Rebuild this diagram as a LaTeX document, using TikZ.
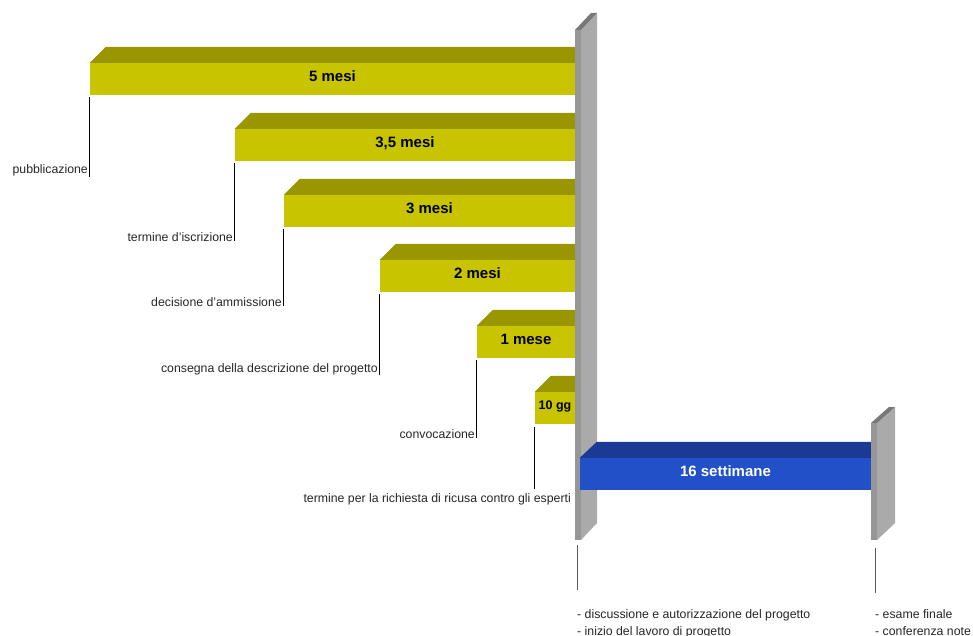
\documentclass[tikz,border=0pt]{standalone}
\usepackage{fontspec}
\setmainfont{Liberation Sans}
\definecolor{yfront}{RGB}{200,196,0}
\definecolor{ytop}{RGB}{154,150,0}
\definecolor{bfront}{RGB}{34,80,200}
\definecolor{btop}{RGB}{26,58,150}
\definecolor{wfront}{RGB}{150,150,150}
\definecolor{wside}{RGB}{170,170,170}
\definecolor{wtop}{RGB}{120,120,120}
\newcommand{\apo}{{\char"27}}
\begin{document}
\begin{tikzpicture}[x=1pt,y=-1pt,
  bar/.style={fill=yfront, draw=none, inner sep=0, minimum height=32pt, text depth=6pt, font=\fontsize{15}{18}\selectfont\bfseries, text=black},
  bbar/.style={fill=bfront, draw=none, inner sep=0, minimum height=32pt, text depth=6pt, font=\fontsize{15}{18}\selectfont\bfseries, text=white},
  lab/.style={inner sep=0, font=\fontsize{12.3}{14}\selectfont, text=black!85},
  lead/.style={draw=black, line width=0.9pt},
  glead/.style={draw=black!65, line width=0.9pt}]
\useasboundingbox (0,0) rectangle (973,636);
% yellow bars
\node[bar, minimum width=485pt] (b1) at (332.5,79) {5 mesi};
\node[bar, minimum width=340pt] (b2) at (405,145) {3,5 mesi};
\node[bar, minimum width=291pt] (b3) at (429.5,211) {3 mesi};
\node[bar, minimum width=195pt] (b4) at (477.5,276) {2 mesi};
\node[bar, minimum width=98pt] (b5) at (526,342) {1 mese};
\node[bar, minimum width=40pt, text depth=5pt, font=\fontsize{12.5}{15}\selectfont\bfseries] (b6) at (555,408) {10 gg};
\foreach \b in {b1,b2,b3,b4,b5,b6}{
  \fill[ytop] (\b.north west) -- (\b.north east) -- ++(16,-16) -| ([xshift=16pt,yshift=16pt]\b.north west) -- cycle;
}
% left wall
\fill[wside] (581,30) -- (597,13) -- (597,523) -- (581,540) -- cycle;
\fill[wfront] (575,30) rectangle (581,540);
\fill[wtop] (575,30) -- (591,13) -- (597,13) -- (581,30) -- cycle;
\coordinate (w1) at (577,545);
\coordinate (w1e) at (577,590);
% blue bar
\node[bbar, minimum width=291pt] (b7) at (725.5,474) {16 settimane};
\fill[btop] (b7.north west) -- (b7.north east) -- ++(17,-16) -- ([xshift=17pt,yshift=16pt]b7.north west) -- cycle;
% right wall
\fill[wside] (877,423) -- (895,407) -- (895,523) -- (877,540) -- cycle;
\fill[wfront] (871,423) rectangle (877,540);
\fill[wtop] (871,423) -- (889,407) -- (895,407) -- (877,423) -- cycle;
\coordinate (w2) at (875,548);
\coordinate (w2e) at (875,593);
% labels
\node[lab, anchor=base east] (l1) at (88,174) {pubblicazione};
\node[lab, anchor=base east] (l2) at (233,241) {termine d\apo iscrizione};
\node[lab, anchor=base east] (l3) at (282,306) {decisione d\apo ammissione};
\node[lab, anchor=base east] (l4) at (378,372) {consegna della descrizione del progetto};
\node[lab, anchor=base east] (l5) at (475,438) {convocazione};
\node[lab, anchor=base east] (l6) at (571,502) {termine per la richiesta di ricusa contro gli esperti};
\draw[lead] ([yshift=-2pt]b1.south west) -- (b1.south west |- l1.south);
\draw[lead] ([yshift=-2pt]b2.south west) -- (b2.south west |- l2.south);
\draw[lead] ([yshift=-2pt]b3.south west) -- (b3.south west |- l3.south);
\draw[lead] ([yshift=-2pt]b4.south west) -- (b4.south west |- l4.south);
\draw[lead] ([yshift=-2pt]b5.south west) -- (b5.south west |- l5.south);
\draw[lead] ([yshift=-3pt]b6.south west) -- ([yshift=4pt]b6.south west |- l6.north);
% bottom labels
\node[lab, anchor=base west] (m1) at (577,618) {- discussione e autorizzazione del progetto};
\node[lab, anchor=base west] (m2) at (577,635) {- inizio del lavoro di progetto};
\node[lab, anchor=base west] (n1) at (875,618) {- esame finale};
\node[lab, anchor=base west] (n2) at (875,635) {- conferenza note};
\draw[glead] (w1) -- (w1e);
\draw[glead] (w2) -- (w2e);
\end{tikzpicture}
\end{document}
